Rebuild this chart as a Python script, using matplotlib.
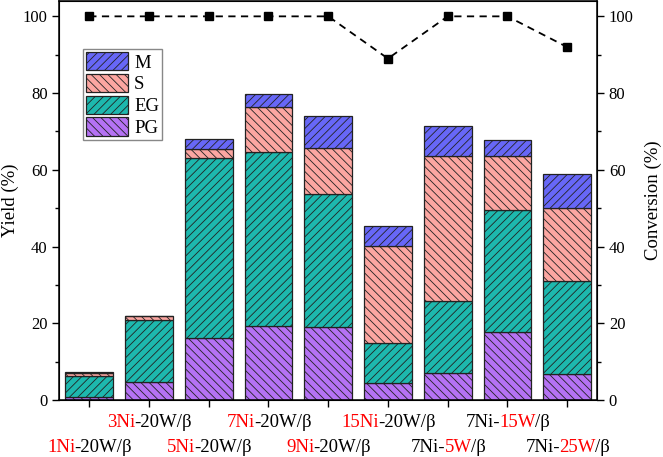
import matplotlib
matplotlib.use("Agg")
import matplotlib.pyplot as plt
import numpy as np

plt.rcParams['font.family'] = ['Liberation Serif', 'DejaVu Serif']
plt.rcParams['hatch.linewidth'] = 0.6

# pieces of each tick label (text, colour)
label_pieces = [
    [("1Ni", "red"), ("-20W/β", "black")],
    [("3Ni", "red"), ("-20W/β", "black")],
    [("5Ni", "red"), ("-20W/β", "black")],
    [("7Ni", "red"), ("-20W/β", "black")],
    [("9Ni", "red"), ("-20W/β", "black")],
    [("15Ni", "red"), ("-20W/β", "black")],
    [("7Ni-", "black"), ("5W", "red"), ("/β", "black")],
    [("7Ni-", "black"), ("15W", "red"), ("/β", "black")],
    [("7Ni-", "black"), ("25W", "red"), ("/β", "black")],
]

# yields (%) - cumulative tops
pg_top = [0.8, 4.6, 16.1, 19.3, 19.0, 4.5, 7.0, 17.6, 6.8]
eg_top = [6.3, 20.8, 63.1, 64.6, 53.7, 14.8, 25.8, 49.5, 31.1]
s_top = [7.1, 21.9, 65.3, 76.3, 65.8, 40.1, 63.6, 63.5, 50.1]
m_top = [7.2, 22.0, 68.1, 79.8, 74.0, 45.3, 71.5, 67.9, 58.9]

conversion = [100, 100, 100, 100, 100, 89, 100, 100, 92]

pg = np.array(pg_top)
eg = np.array(eg_top) - np.array(pg_top)
s = np.array(s_top) - np.array(eg_top)
m = np.array(m_top) - np.array(s_top)

x = np.arange(1, len(pg) + 1)

fig = plt.figure(figsize=(6.63, 4.57), dpi=100)
ax = fig.add_axes([0.0896, 0.1247, 0.8109, 0.8731])

kw = dict(width=0.8, edgecolor='#222222', linewidth=0.9)
b_pg = ax.bar(x, pg, color='#B572F4', hatch='\\\\\\\\', label='PG', **kw)
b_eg = ax.bar(x, eg, bottom=pg, color='#1DB8AE', hatch='////', label='EG', **kw)
b_s = ax.bar(x, s, bottom=pg + eg, color='#FCA6A1', hatch='\\\\\\\\', label='S', **kw)
b_m = ax.bar(x, m, bottom=pg + eg + s, color='#6767F7', hatch='////', label='M', **kw)

ax.set_xlim(0.5, 9.5)
ax.set_ylim(0, 104)
ax.set_yticks(np.arange(0, 101, 20))
ax.set_yticks(np.arange(10, 101, 20), minor=True)
ax.set_xticks(x)
ax.set_xticklabels([])
ax.tick_params(axis='both', which='major', direction='out', length=5, width=1, labelsize=12)
ax.tick_params(axis='y', which='minor', direction='out', length=3, width=1)
ax.set_ylabel('Yield (%)', fontsize=13.5, labelpad=3)
for sp in ax.spines.values():
    sp.set_linewidth(1.1)

ax2 = ax.twinx()
ax2.plot(x, conversion, color='black', linestyle=(0, (4, 3)), linewidth=1.3,
         marker='s', markersize=6)
ax2.set_ylim(0, 104)
ax2.set_yticks(np.arange(0, 101, 20))
ax2.set_yticks(np.arange(10, 101, 20), minor=True)
ax2.tick_params(axis='y', which='major', direction='out', length=5, width=1, labelsize=12)
ax2.tick_params(axis='y', which='minor', direction='out', length=3, width=1)
ax2.set_ylabel('Conversion (%)', fontsize=13.5, labelpad=8)

leg = ax.legend(handles=[b_m, b_s, b_eg, b_pg], loc='upper left',
                bbox_to_anchor=(0.0445, 0.879), borderaxespad=0, fontsize=13.5,
                handlelength=2.25, handleheight=1.12, labelspacing=0.12,
                borderpad=0.15, handletextpad=0.3, fancybox=False,
                edgecolor='#888888', framealpha=1)
leg.get_frame().set_linewidth(1.0)

# two-row coloured tick labels, all pieces on one baseline
fig.canvas.draw()
renderer = fig.canvas.get_renderer()
px_per_unit = ax.transData.transform((1, 0))[0] - ax.transData.transform((0, 0))[0]
trans = ax.get_xaxis_transform()
for i, pieces in enumerate(label_pieces):
    yrow = -0.068 if i % 2 == 1 else -0.131
    texts = [ax.text(x[i], yrow, txt, color=col, fontsize=13.5, transform=trans,
                     ha='left', va='baseline', clip_on=False)
             for txt, col in pieces]
    widths = [t.get_window_extent(renderer).width - 1 for t in texts]
    start = x[i] - sum(widths) / 2 / px_per_unit
    for t, off in zip(texts, np.cumsum([0] + widths[:-1])):
        t.set_position((start + off / px_per_unit, yrow))

fig.savefig('out.png', dpi=100)
